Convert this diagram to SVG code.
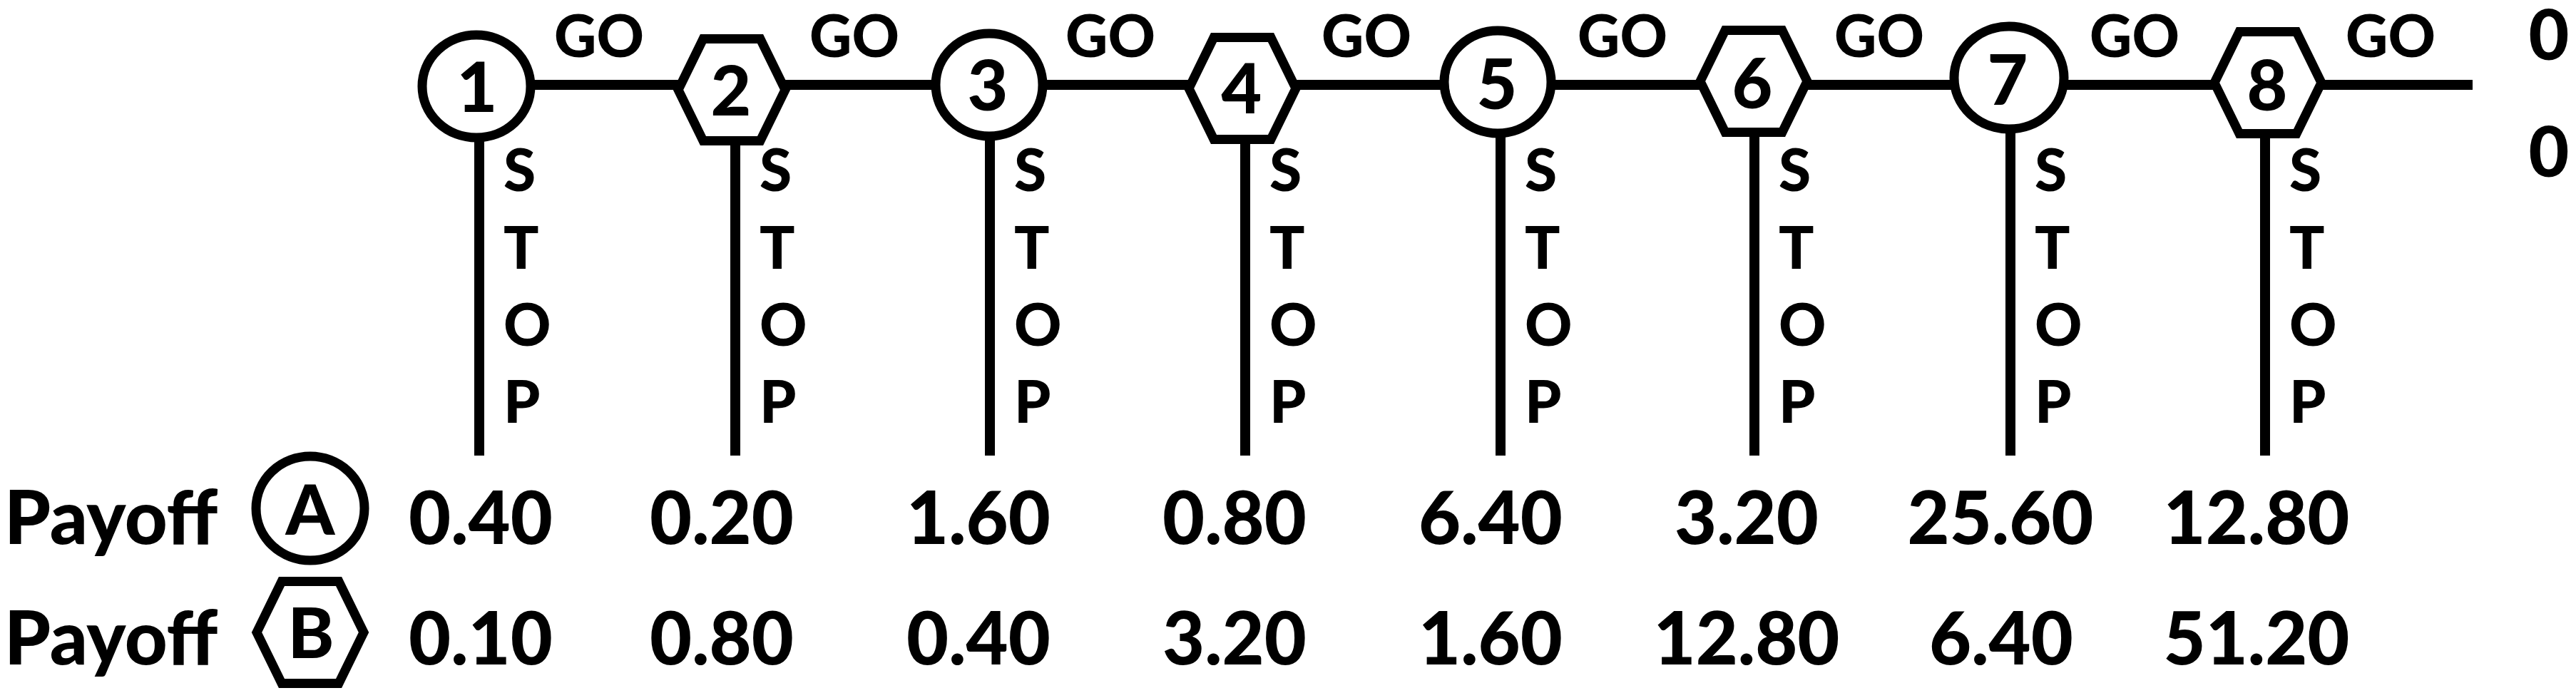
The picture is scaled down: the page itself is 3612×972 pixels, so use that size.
<svg xmlns="http://www.w3.org/2000/svg" xmlns:xlink="http://www.w3.org/1999/xlink" width="3612" height="972" viewBox="0 0 3612 972">
<style>
  .t{font-family:Lato,"Open Sans","Liberation Sans",sans-serif;font-weight:900;fill:#000}
  .num{font-size:98px;text-anchor:middle}
  .go{font-size:82px;text-anchor:middle}
  .stop{font-size:82px}
  .val{font-size:102px;text-anchor:middle}
  .lbl{font-size:104px}
  .shape{fill:#fff;stroke:#000;stroke-width:13}
  .edge{stroke:#000;stroke-width:14;fill:none}
</style>
<defs>
  <path id="hex" d="M-75,0 L-40,-71.5 L40,-71.5 L75,0 L40,71.5 L-40,71.5 Z"/>
</defs>
<rect x="0" y="0" width="3612" height="972" fill="#fff"/>

<g id="connectors" class="edge">
  <line x1="668" y1="119" x2="3467" y2="119"/>
  <line x1="672" y1="121" x2="672" y2="639"/>
  <line x1="1031" y1="126" x2="1031" y2="639"/>
  <line x1="1388" y1="119" x2="1388" y2="639"/>
  <line x1="1746" y1="124" x2="1746" y2="639"/>
  <line x1="2104" y1="115" x2="2104" y2="639"/>
  <line x1="2460" y1="114" x2="2460" y2="639"/>
  <line x1="2819" y1="109" x2="2819" y2="639"/>
  <line x1="3176" y1="116" x2="3176" y2="639"/>
</g>

<g id="edge-labels" class="t">
  <text class="go" x="840" y="80">GO</text>
  <text class="go" x="1198" y="80">GO</text>
  <text class="go" x="1557" y="80">GO</text>
  <text class="go" x="1916" y="80">GO</text>
  <text class="go" x="2275" y="80">GO</text>
  <text class="go" x="2635" y="80">GO</text>
  <text class="go" x="2993" y="80">GO</text>
  <text class="go" x="3352" y="80">GO</text>
  <text class="stop"><tspan x="706" y="268">S</tspan><tspan x="706" y="377">T</tspan><tspan x="706" y="485">O</tspan><tspan x="706" y="593">P</tspan></text>
  <text class="stop"><tspan x="1065" y="268">S</tspan><tspan x="1065" y="377">T</tspan><tspan x="1065" y="485">O</tspan><tspan x="1065" y="593">P</tspan></text>
  <text class="stop"><tspan x="1422" y="268">S</tspan><tspan x="1422" y="377">T</tspan><tspan x="1422" y="485">O</tspan><tspan x="1422" y="593">P</tspan></text>
  <text class="stop"><tspan x="1780" y="268">S</tspan><tspan x="1780" y="377">T</tspan><tspan x="1780" y="485">O</tspan><tspan x="1780" y="593">P</tspan></text>
  <text class="stop"><tspan x="2138" y="268">S</tspan><tspan x="2138" y="377">T</tspan><tspan x="2138" y="485">O</tspan><tspan x="2138" y="593">P</tspan></text>
  <text class="stop"><tspan x="2494" y="268">S</tspan><tspan x="2494" y="377">T</tspan><tspan x="2494" y="485">O</tspan><tspan x="2494" y="593">P</tspan></text>
  <text class="stop"><tspan x="2853" y="268">S</tspan><tspan x="2853" y="377">T</tspan><tspan x="2853" y="485">O</tspan><tspan x="2853" y="593">P</tspan></text>
  <text class="stop"><tspan x="3210" y="268">S</tspan><tspan x="3210" y="377">T</tspan><tspan x="3210" y="485">O</tspan><tspan x="3210" y="593">P</tspan></text>
</g>

<g id="node1"><ellipse class="shape" cx="668" cy="121" rx="76" ry="72"/><text class="t num" x="669" y="157">1</text></g>
<g id="node2"><use class="shape" xlink:href="#hex" href="#hex" x="1026" y="126"/><text class="t num" x="1025" y="162">2</text></g>
<g id="node3"><ellipse class="shape" cx="1387" cy="119" rx="75" ry="72"/><text class="t num" x="1385" y="155">3</text></g>
<g id="node4"><use class="shape" xlink:href="#hex" href="#hex" x="1742" y="124"/><text class="t num" x="1741" y="159">4</text></g>
<g id="node5"><ellipse class="shape" cx="2100" cy="115" rx="75" ry="72"/><text class="t num" x="2099" y="153">5</text></g>
<g id="node6"><use class="shape" xlink:href="#hex" href="#hex" x="2459" y="114"/><text class="t num" x="2457" y="152">6</text></g>
<g id="node7"><ellipse class="shape" cx="2817" cy="109" rx="77" ry="72"/><text class="t num" x="2815" y="147">7</text></g>
<g id="node8"><use class="shape" xlink:href="#hex" href="#hex" x="3180" y="116"/><text class="t num" x="3179" y="155">8</text></g>

<g id="terminal" class="t">
  <text class="num" x="3574" y="84">0</text>
  <text class="num" x="3574" y="248">0</text>
</g>

<g id="payoff-A" class="t">
  <text class="lbl" x="6" y="763">Payoff</text>
  <ellipse class="shape" cx="435" cy="713" rx="76" ry="73"/>
  <text class="num" x="435" y="750">A</text>
  <text class="val" x="674" y="763">0.40</text>
  <text class="val" x="1012" y="763">0.20</text>
  <text class="val" x="1372" y="763">1.60</text>
  <text class="val" x="1731" y="763">0.80</text>
  <text class="val" x="2090" y="763">6.40</text>
  <text class="val" x="2449" y="763">3.20</text>
  <text class="val" x="2805" y="763">25.60</text>
  <text class="val" x="3164" y="763">12.80</text>
</g>

<g id="payoff-B" class="t">
  <text class="lbl" x="6" y="932">Payoff</text>
  <use class="shape" xlink:href="#hex" href="#hex" x="435" y="887"/>
  <text class="num" x="436" y="923">B</text>
  <text class="val" x="674" y="932">0.10</text>
  <text class="val" x="1012" y="932">0.80</text>
  <text class="val" x="1372" y="932">0.40</text>
  <text class="val" x="1731" y="932">3.20</text>
  <text class="val" x="2090" y="932">1.60</text>
  <text class="val" x="2449" y="932">12.80</text>
  <text class="val" x="2806" y="932">6.40</text>
  <text class="val" x="3164" y="932">51.20</text>
</g>
</svg>
